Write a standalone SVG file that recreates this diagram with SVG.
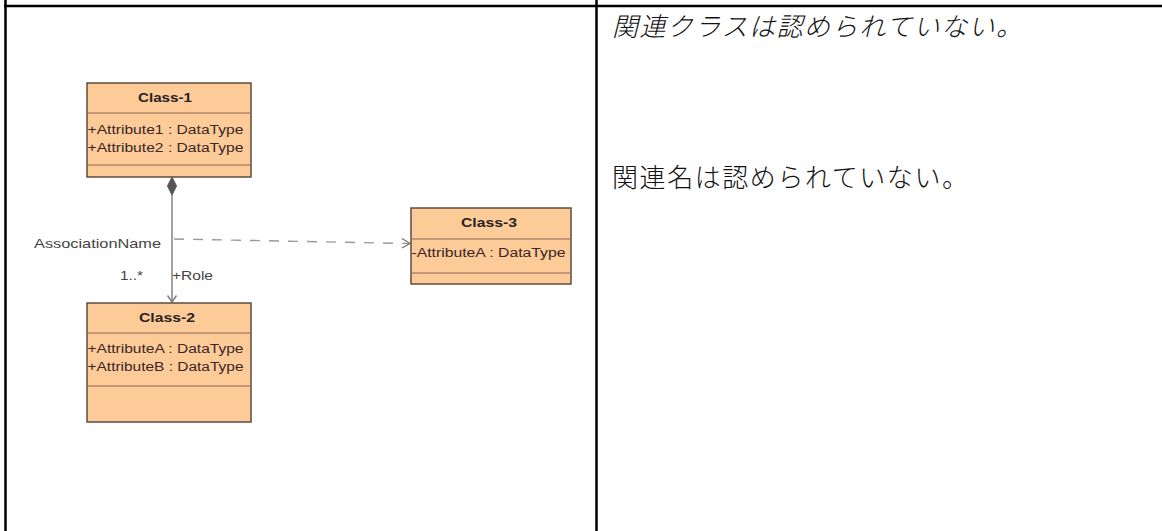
<svg xmlns="http://www.w3.org/2000/svg" width="1162" height="531" viewBox="0 0 1162 531">
<defs>
<style>
.tbl{stroke:#000;stroke-width:2.5;fill:none}
.box{fill:#FCCB98;stroke:#5e4c3e;stroke-width:1.5}
.sep{stroke:#8a6a52;stroke-width:1.2}
.title{font-family:"Liberation Sans",Arial,sans-serif;font-size:12px;font-weight:bold;fill:#2b2222;text-anchor:middle}
.attr{font-family:"Liberation Sans",Arial,sans-serif;font-size:12px;fill:#3a2626}
.lbl{font-family:"Liberation Sans",Arial,sans-serif;font-size:13px;fill:#444}
.jp{font-family:"Noto Sans CJK JP",sans-serif;font-size:26px;font-weight:300;fill:#111}
.conn{stroke:#7a7a7a;stroke-width:1.4;fill:none}
.dash{stroke:#9a9a9a;stroke-width:1.4;fill:none;stroke-dasharray:10 9}
</style>
</defs>
<rect width="1162" height="531" fill="#fff"/>
<g id="table">
<line class="tbl" x1="4" y1="6" x2="1162" y2="6"/>
<line class="tbl" x1="5.5" y1="0" x2="5.5" y2="531"/>
<line class="tbl" x1="596.5" y1="0" x2="596.5" y2="531"/>
</g>
<g id="connectors">
<line class="conn" x1="172" y1="194" x2="172" y2="302"/>
<polygon points="172,177 176.5,186 172,195 167.5,186" fill="#555" stroke="#555" stroke-width="1"/>
<polyline class="conn" points="167.5,295.5 172,302 176.5,295.5"/>
<line class="dash" x1="174" y1="239" x2="409" y2="243.5"/>
<polyline class="conn" points="402,238.5 410,243.5 402,248" stroke="#888"/>
<text class="lbl" x="34" y="248" textLength="127" lengthAdjust="spacingAndGlyphs">AssociationName</text>
<text class="lbl" x="120" y="280" textLength="23" lengthAdjust="spacingAndGlyphs">1..*</text>
<text class="lbl" x="172" y="280" textLength="41" lengthAdjust="spacingAndGlyphs">+Role</text>
</g>
<g id="class1">
<rect class="box" x="87" y="83" width="164" height="94"/>
<line class="sep" x1="87" y1="113" x2="251" y2="113"/>
<line class="sep" x1="87" y1="165" x2="251" y2="165"/>
<text class="title" x="165" y="101.5" textLength="54" lengthAdjust="spacingAndGlyphs">Class-1</text>
<text class="attr" x="87.5" y="134" textLength="156" lengthAdjust="spacingAndGlyphs">+Attribute1 : DataType</text>
<text class="attr" x="87.5" y="151.5" textLength="156" lengthAdjust="spacingAndGlyphs">+Attribute2 : DataType</text>
</g>
<g id="class2">
<rect class="box" x="87" y="303" width="164" height="119"/>
<line class="sep" x1="87" y1="333" x2="251" y2="333"/>
<line class="sep" x1="87" y1="386" x2="251" y2="386"/>
<text class="title" x="167" y="322" textLength="56" lengthAdjust="spacingAndGlyphs">Class-2</text>
<text class="attr" x="87.5" y="353" textLength="156" lengthAdjust="spacingAndGlyphs">+AttributeA : DataType</text>
<text class="attr" x="87.5" y="371" textLength="156" lengthAdjust="spacingAndGlyphs">+AttributeB : DataType</text>
</g>
<g id="class3">
<rect class="box" x="411" y="208" width="160" height="76"/>
<line class="sep" x1="411" y1="239" x2="571" y2="239"/>
<line class="sep" x1="411" y1="273" x2="571" y2="273"/>
<text class="title" x="489" y="226.5" textLength="56" lengthAdjust="spacingAndGlyphs">Class-3</text>
<text class="attr" x="411.5" y="256.5" textLength="154" lengthAdjust="spacingAndGlyphs">-AttributeA : DataType</text>
</g>
<g id="notes">
<text class="jp" x="612" y="36" font-style="italic" textLength="410" lengthAdjust="spacing">関連クラスは認められていない。</text>
<text class="jp" x="612" y="187" textLength="356" lengthAdjust="spacing">関連名は認められていない。</text>
</g>
</svg>
